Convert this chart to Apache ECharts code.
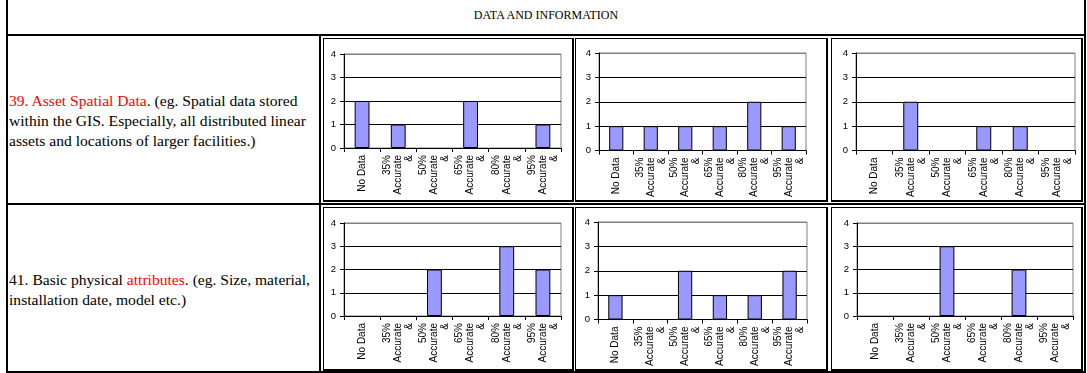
<!DOCTYPE html>
<html>
<head>
<meta charset="utf-8">
<script src="https://cdn.jsdelivr.net/npm/echarts@6/dist/echarts.min.js"></script>
<style>
  html, body { margin: 0; padding: 0; background: #fff; }
  body { width: 1087px; height: 373px; position: relative; overflow: hidden; }
  .ln { position: absolute; background: #000; }
  .box { position: absolute; box-sizing: border-box; border: 1px solid #000; border-right-width: 2px; border-bottom-width: 2px; background: #fff; }
  .chart { position: absolute; left: 0; top: 0; right: 0; bottom: 0; }
  .hdr { position: absolute; left: 8px; top: 0; width: 1076px; height: 34px; line-height: 30px;
         text-align: center; font-family: "Liberation Serif", serif; font-size: 12px; color: #000; }
  .txt { position: absolute; left: 9px; width: 310px; display: flex; align-items: center;
         font-family: "Liberation Serif", serif; font-size: 15.6px; line-height: 20px; color: #000; }
  .red { color: #ff0000; }
</style>
</head>
<body>
<div class="hdr">DATA AND INFORMATION</div>

<div class="txt" style="top:36px;height:170px;"><div><span class="red">39. Asset Spatial Data</span>. (eg. Spatial data stored within the GIS. Especially, all distributed linear assets and locations of larger facilities.)</div></div>
<div class="txt" style="top:205px;height:170px;"><div>41. Basic physical <span class="red">attributes</span>. (eg. Size, material, installation date, model etc.)</div></div>

<!-- table rules -->
<div class="ln" style="left:6px;top:0;width:2px;height:373px;"></div>
<div class="ln" style="left:1084px;top:0;width:2px;height:373px;"></div>
<div class="ln" style="left:6px;top:34px;width:1080px;height:2px;"></div>
<div class="ln" style="left:6px;top:203px;width:1080px;height:2px;"></div>
<div class="ln" style="left:6px;top:371px;width:1080px;height:2px;"></div>
<div class="ln" style="left:319px;top:34px;width:2px;height:339px;"></div>

<div class="box" style="left:323px;top:38px;width:251px;height:164px;"><div class="chart" id="c11"></div></div>
<div class="box" style="left:575px;top:38px;width:253px;height:164px;"><div class="chart" id="c12"></div></div>
<div class="box" style="left:831px;top:38px;width:252px;height:164px;"><div class="chart" id="c13"></div></div>
<div class="box" style="left:323px;top:207px;width:251px;height:164px;"><div class="chart" id="c21"></div></div>
<div class="box" style="left:575px;top:207px;width:253px;height:164px;"><div class="chart" id="c22"></div></div>
<div class="box" style="left:831px;top:207px;width:252px;height:164px;"><div class="chart" id="c23"></div></div>

<script>
// accuracy bands on the category axis
const categories = ['No Data', '35%\nAccurate\n&', '50%\nAccurate\n&', '65%\nAccurate\n&', '80%\nAccurate\n&', '95%\nAccurate\n&'];
const yTicks = [0, 1, 2, 3, 4];

// 39. Asset Spatial Data — response counts per band
const spatialA = [2, 1, 0, 2, 0, 1];
const spatialB = [1, 1, 1, 1, 2, 1];
const spatialC = [0, 2, 0, 1, 1, 0];

// 41. Basic physical attributes — response counts per band
const attribA = [0, 0, 2, 0, 3, 2];
const attribB = [1, 0, 2, 1, 1, 2];
const attribC = [0, 0, 3, 0, 2, 0];

function drawChart(id, values, grid) {
  const chart = echarts.init(document.getElementById(id), null, { renderer: 'canvas' });
  chart.setOption({
    animation: false,
    grid: Object.assign({ show: true, borderColor: '#808080', borderWidth: 1, containLabel: false }, grid),
    xAxis: {
      type: 'category',
      data: categories,
      axisLine: { lineStyle: { color: '#000', width: 1 } },
      axisTick: { show: true, length: 4, lineStyle: { color: '#000' } },
      axisLabel: {
        interval: 0, rotate: 90, margin: 7,
        fontFamily: 'Liberation Sans, Arial, sans-serif', fontSize: 10, lineHeight: 11, color: '#000'
      },
      splitLine: { show: false }
    },
    yAxis: {
      type: 'value',
      min: yTicks[0], max: yTicks[yTicks.length - 1], interval: 1,
      axisLine: { show: true, lineStyle: { color: '#000', width: 1 } },
      axisTick: { show: true, length: 4, lineStyle: { color: '#000' } },
      axisLabel: { margin: 8, fontFamily: 'Liberation Sans, Arial, sans-serif', fontSize: 9.5, color: '#000' },
      splitLine: { show: true, lineStyle: { color: ['#000', '#000', '#000', '#000', '#808080'], width: 1 } }
    },
    series: [{
      type: 'bar',
      // empty bands keep their zero value but get no outline
      data: values.map(v => ({ value: v, itemStyle: { borderWidth: v ? 1 : 0 } })),
      barWidth: '41%',
      itemStyle: { color: '#9999FF', borderColor: '#000', borderWidth: 1 }
    }]
  });
}

drawChart('c11', spatialA, { left: 20, right: 11, top: 15, bottom: 52 });
drawChart('c12', spatialB, { left: 23, right: 20, top: 14, bottom: 49 });
drawChart('c13', spatialC, { left: 24, right: 6, top: 14, bottom: 49 });
drawChart('c21', attribA, { left: 20, right: 11, top: 15, bottom: 53 });
drawChart('c22', attribB, { left: 22, right: 19, top: 14, bottom: 48 });
drawChart('c23', attribC, { left: 25, right: 8, top: 15, bottom: 53 });
</script>
</body>
</html>
